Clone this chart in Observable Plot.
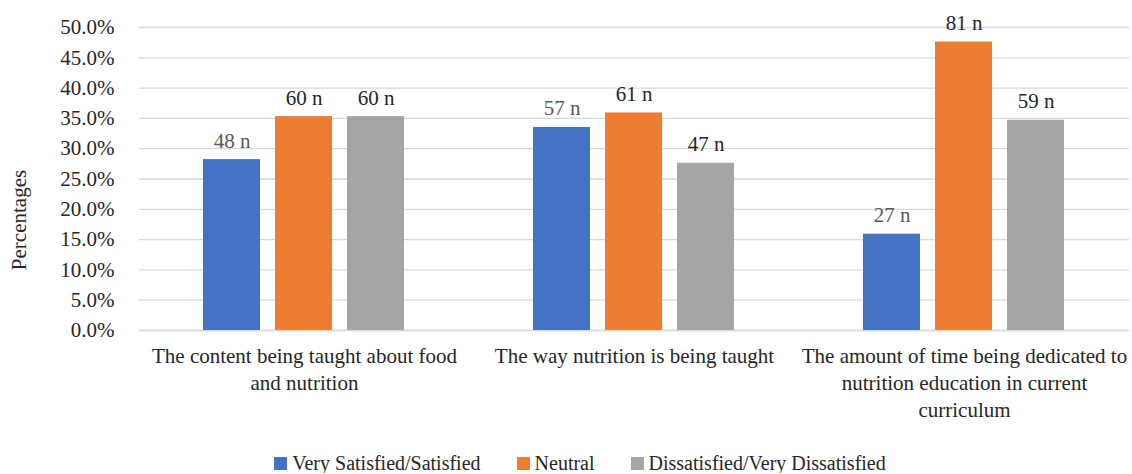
<!DOCTYPE html>
<html>
<head>
<meta charset="utf-8">
<script src="https://cdn.jsdelivr.net/npm/d3@7"></script>
<script src="https://cdn.jsdelivr.net/npm/@observablehq/plot@0.6"></script>
<style>
  html, body { margin: 0; padding: 0; background: #fff; }
  #wrap { position: relative; width: 1132px; }
  .ylabel {
    position: absolute; left: 19px; top: 220px;
    transform: translate(-50%, -50%) rotate(-90deg);
    font-family: "Liberation Serif", serif; font-size: 21px; color: #262626;
    white-space: nowrap; line-height: 1;
  }
  .legend {
    display: flex; justify-content: center; align-items: center; gap: 36px;
    padding-top: 23px; line-height: 20px;
    font-family: "Liberation Serif", serif;
    font-size: 20px; color: #262626;
    padding-left: 28px;
  }
  .legend span.item { display: flex; align-items: center; }
  .legend i { display: inline-block; width: 13px; height: 13px; margin-right: 5px; }
</style>
</head>
<body>
<div id="wrap"></div>
<script>
// Survey topics (x categories), with manual line breaks for the axis
const categories = [
  "The content being taught about food\nand nutrition",
  "The way nutrition is being taught",
  "The amount of time being dedicated to\nnutrition education in current\ncurriculum"
];
const series = ["Very Satisfied/Satisfied", "Neutral", "Dissatisfied/Very Dissatisfied"];
const colors = ["#4472C4", "#ED7D31", "#A5A5A5"];

// Percent of respondents per topic, one array per response group
const satisfied    = [28.2, 33.5, 15.9];
const neutral      = [35.3, 35.9, 47.6];
const dissatisfied = [35.3, 27.6, 34.7];

// Respondent counts shown above each bar
const satisfiedN    = [48, 57, 27];
const neutralN      = [60, 61, 81];
const dissatisfiedN = [60, 47, 59];

const yTicks = [0, 5, 10, 15, 20, 25, 30, 35, 40, 45, 50];
const yTitle = "Percentages";

const valuesBySeries = [satisfied, neutral, dissatisfied];
const countsBySeries = [satisfiedN, neutralN, dissatisfiedN];
const rows = [];
categories.forEach((c, i) => {
  series.forEach((s, j) => {
    rows.push({category: c, series: s, pct: valuesBySeries[j][i] / 100, n: countsBySeries[j][i]});
  });
});

const font = "'Liberation Serif', serif";
const fs = 21;

const chart = Plot.plot({
  width: 1132,
  height: 430,
  marginLeft: 138,
  marginRight: 2,
  marginTop: 27,
  marginBottom: 100,
  style: {fontFamily: font, fontSize: fs + "px", color: "#262626", background: "#fff"},
  fx: {domain: categories, padding: 0, label: null, axis: null},
  x: {domain: series, padding: 0.205, paddingOuter: 0.87, axis: null},
  y: {domain: [0, 0.5], label: null},
  color: {domain: series, range: colors},
  marks: [
    Plot.gridY(yTicks.map(d => d / 100), {stroke: "#d9d9d9", strokeOpacity: 1, strokeWidth: 1.3}),
    Plot.ruleY([0], {stroke: "#d9d9d9", strokeWidth: 1.3}),
    Plot.axisY(yTicks.map(d => d / 100), {
      tickSize: 0, tickPadding: 25, tickFormat: d3.format(".1%"),
      fontSize: fs, fill: "#262626", label: null
    }),
    Plot.axisFx({
      anchor: "bottom", tickSize: 0, tickPadding: 14, fontSize: fs, lineHeight: 1.27,
      fill: "#262626", label: null
    }),
    Plot.barY(rows, {fx: "category", x: "series", y: "pct", fill: "series"}),
    Plot.text(rows.filter(d => d.series === series[0]), {
      fx: "category", x: "series", y: "pct", text: d => `${d.n} n`,
      lineAnchor: "bottom", dy: -12, fill: "#595959", fontSize: fs
    }),
    Plot.text(rows.filter(d => d.series !== series[0]), {
      fx: "category", x: "series", y: "pct", text: d => `${d.n} n`,
      lineAnchor: "bottom", dy: -12, fill: "#262626", fontSize: fs
    })
  ]
});
const wrap = document.getElementById("wrap");
wrap.append(chart);

// Rotated y-axis title
const yl = document.createElement("div");
yl.className = "ylabel";
yl.textContent = yTitle;
wrap.append(yl);

const legend = document.createElement("div");
legend.className = "legend";
series.forEach((s, j) => {
  const item = document.createElement("span");
  item.className = "item";
  const sw = document.createElement("i");
  sw.style.background = colors[j];
  item.append(sw, document.createTextNode(s));
  legend.append(item);
});
document.body.append(legend);
</script>
</body>
</html>
